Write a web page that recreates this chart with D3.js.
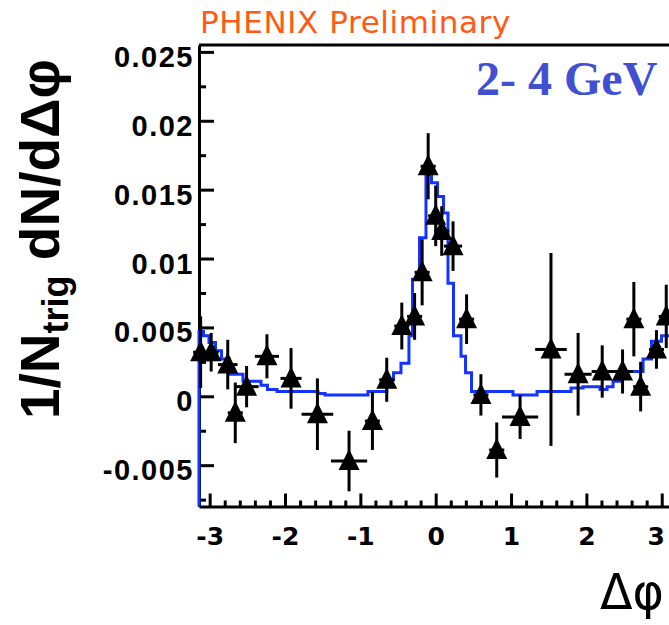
<!DOCTYPE html>
<html>
<head>
<meta charset="utf-8">
<script src="https://cdn.jsdelivr.net/npm/d3@7"></script>
<style>
  html, body { margin: 0; padding: 0; background: #fff; }
  svg { display: block; }
</style>
</head>
<body>
<svg id="chart" width="669" height="625"></svg>
<script>
// measured points (black triangles)
var dphi     = [-3.12, -2.98, -2.76, -2.66, -2.51, -2.24, -1.92, -1.57, -1.15, -0.84,
                -0.65, -0.45, -0.28, -0.18, -0.10, 0.00, 0.08, 0.23, 0.41, 0.60,
                0.81, 1.12, 1.53, 1.89, 2.21, 2.48, 2.63, 2.72, 2.93, 3.06];
var yieldVal = [0.0032, 0.0032, 0.0023, -0.0012, 0.0007, 0.0029, 0.0013, -0.0013, -0.0047, -0.0018,
                0.0012, 0.0051, 0.0058, 0.0090, 0.0167, 0.0131, 0.0120, 0.0109, 0.0056, 0.0001,
                -0.0039, -0.0015, 0.0034, 0.0016, 0.0018, 0.0018, 0.0056, 0.0007, 0.0034, 0.0058];
var yieldErr = [0.0026, 0.0014, 0.0018, 0.0022, 0.0015, 0.0016, 0.0022, 0.0026, 0.0022, 0.0021,
                0.0016, 0.0017, 0.0017, 0.0024, 0.0024, 0.0022, 0.0018, 0.0018, 0.0018, 0.0015,
                0.0020, 0.0016, 0.0070, 0.0030, 0.0019, 0.0016, 0.0027, 0.0018, 0.0014, 0.0023];
var dphiErr  = [0.10, 0.10, 0.13, 0.10, 0.16, 0.16, 0.14, 0.21, 0.24, 0.10,
                0.10, 0.10, 0.10, 0.10, 0.10, 0.10, 0.10, 0.12, 0.10, 0.10,
                0.10, 0.24, 0.21, 0.18, 0.14, 0.14, 0.10, 0.10, 0.10, 0.10];

// blue reference histogram: bin edges and contents
var histEdges = [-Math.PI, -3.082, -3.009, -2.923, -2.843, -2.737, -2.558, -2.319, -2.233, -2.106,
                 -1.562, -1.469, -0.899, -0.650, -0.560, -0.461, -0.355, -0.308, -0.215, -0.129,
                 -0.056, 0.024, 0.104, 0.163, 0.236, 0.336, 0.396, 0.475, 1.026, 1.345,
                 1.796, 1.955, 2.181, 2.274, 2.354, 2.447, 2.752, 2.864, 2.997, Math.PI];
var histVals  = [0.0047, 0.0044, 0.0039, 0.0033, 0.0027, 0.0016, 0.0011, 0.0008, 0.0005, 0.00035,
                 0.0002, 0.0001, 0.00035, 0.0012, 0.0017, 0.0024, 0.0044, 0.0085, 0.0115, 0.0161,
                 0.0155, 0.0145, 0.0133, 0.0082, 0.0044, 0.0029, 0.0017, 0.00035, 0.0001, 0.00035,
                 0.0006, 0.0007, 0.0005, 0.0007, 0.0011, 0.0018, 0.0027, 0.0040, 0.0044];

var yTicks = [-0.005, 0, 0.005, 0.01, 0.015, 0.02, 0.025];
var yTickLabels = ["-0.005", "0", "0.005", "0.01", "0.015", "0.02", "0.025"];
var yMinorTicks = [-0.0075, -0.0025, 0.0025, 0.0075, 0.0125, 0.0175, 0.0225];
var xTicks = [-3, -2, -1, 0, 1, 2, 3];
var xTickLabels = ["-3", "-2", "-1", "0", "1", "2", "3"];

var svg = d3.select("#chart");

var frame = { left: 199, right: 672.4, top: 45, bottom: 506.5 };

var xScale = d3.scaleLinear()
    .domain([-Math.PI, Math.PI])
    .range([frame.left, frame.right]);

var yScale = d3.scaleLinear()
    .domain([-0.008, 0.0255])
    .range([frame.bottom, frame.top]);

// minor x ticks every 0.2
var xMinorTicks = d3.range(-30, 31, 2).map(function (d) { return d / 10; })
    .filter(function (d) { return xTicks.indexOf(d) < 0; });

function styleAxis(g) {
    g.select(".domain").attr("stroke", "#000").attr("stroke-width", 3);
    g.selectAll(".tick line").attr("stroke", "#000").attr("stroke-width", 3);
}

// top frame line
svg.append("line")
    .attr("x1", frame.left).attr("x2", frame.right + 2)
    .attr("y1", frame.top).attr("y2", frame.top)
    .attr("stroke", "#000").attr("stroke-width", 3);

// y axis
var yAxis = svg.append("g")
    .attr("transform", "translate(" + frame.left + ",0)")
    .call(d3.axisLeft(yScale)
        .tickValues(yTicks)
        .tickSize(-15)
        .tickSizeOuter(0)
        .tickPadding(6)
        .tickFormat(function (d, i) { return yTickLabels[i]; }))
    .call(styleAxis);

yAxis.selectAll("text")
    .attr("fill", "#000")
    .attr("dy", "0.5em")
    .attr("x", -5)
    .style("font-family", "'Liberation Sans', Arial, sans-serif")
    .style("font-weight", "bold")
    .style("font-size", "29px")
    .style("letter-spacing", "1.5px");

svg.append("g")
    .attr("transform", "translate(" + frame.left + ",0)")
    .call(d3.axisLeft(yScale).tickValues(yMinorTicks).tickSize(-7).tickSizeOuter(0).tickFormat(""))
    .call(styleAxis)
    .call(function (g) { g.select(".domain").remove(); });

// x axis
var xAxis = svg.append("g")
    .attr("transform", "translate(0," + frame.bottom + ")")
    .call(d3.axisBottom(xScale)
        .tickValues(xTicks)
        .tickSize(-13)
        .tickSizeOuter(0)
        .tickFormat(function (d, i) { return xTickLabels[i]; }))
    .call(styleAxis);

xAxis.selectAll("text")
    .attr("fill", "#000")
    .attr("y", 38.5)
    .attr("dy", 0)
    .attr("x", function (d) { return d === 3 ? -6 : 0; })  // last label sits at the window edge
    .style("font-family", "'DejaVu Sans', sans-serif")
    .style("font-weight", "bold")
    .style("font-size", "25px");

svg.append("g")
    .attr("transform", "translate(0," + frame.bottom + ")")
    .call(d3.axisBottom(xScale).tickValues(xMinorTicks).tickSize(-6).tickSizeOuter(0).tickFormat(""))
    .call(styleAxis)
    .call(function (g) { g.select(".domain").remove(); });

// reference histogram as a step outline
var histPts = [[histEdges[0], yScale.domain()[0]]];
histVals.forEach(function (v, i) {
    histPts.push([histEdges[i], v]);
    histPts.push([histEdges[i + 1], v]);
});
histPts.push([histEdges[histEdges.length - 1], yScale.domain()[0]]);

var stepLine = d3.line()
    .x(function (d) { return xScale(d[0]); })
    .y(function (d) { return yScale(d[1]); });

svg.append("path")
    .datum(histPts)
    .attr("d", stepLine)
    .attr("fill", "none")
    .attr("stroke", "#1333ff")
    .attr("stroke-width", 3)
    .attr("stroke-linejoin", "miter");

// data points with error bars
var points = dphi.map(function (x, i) {
    return { x: x, y: yieldVal[i], ey: yieldErr[i], ex: dphiErr[i] };
});

var pts = svg.append("g").attr("class", "points")
    .selectAll("g")
    .data(points)
    .enter()
    .append("g");

pts.append("line")
    .attr("x1", function (d) { return xScale(d.x); })
    .attr("x2", function (d) { return xScale(d.x); })
    .attr("y1", function (d) { return yScale(d.y - d.ey); })
    .attr("y2", function (d) { return yScale(d.y + d.ey); })
    .attr("stroke", "#000").attr("stroke-width", 3);

pts.append("line")
    .attr("x1", function (d) { return xScale(d.x - d.ex); })
    .attr("x2", function (d) { return xScale(d.x + d.ex); })
    .attr("y1", function (d) { return yScale(d.y); })
    .attr("y2", function (d) { return yScale(d.y); })
    .attr("stroke", "#000").attr("stroke-width", 3);

pts.append("path")
    .attr("transform", function (d) { return "translate(" + xScale(d.x) + "," + yScale(d.y) + ")"; })
    .attr("d", "M0,-12L10.5,9L-10.5,9Z")
    .attr("fill", "#000");

// labels
svg.append("text")
    .attr("x", 200).attr("y", 33)
    .attr("fill", "#ff5a14")
    .style("font-family", "'DejaVu Sans', sans-serif")
    .style("font-size", "31px")
    .style("letter-spacing", "0.6px")
    .text("PHENIX Preliminary");

svg.append("text")
    .attr("x", 476).attr("y", 95)
    .attr("fill", "#4050d0")
    .style("font-family", "'Liberation Serif', 'Times New Roman', serif")
    .style("font-weight", "bold")
    .style("font-size", "48px")
    .text("2- 4 GeV");

var yTitle = svg.append("text")
    .attr("transform", "translate(59,419) rotate(-90)")
    .attr("fill", "#000")
    .style("font-family", "'Liberation Sans', Arial, sans-serif")
    .style("font-weight", "bold")
    .style("font-size", "55px");
yTitle.append("tspan").text("1/N");
yTitle.append("tspan").attr("dy", 9).style("font-size", "36px").text("trig");
yTitle.append("tspan").attr("dy", -9).text(" dN/dΔφ");

svg.append("text")
    .attr("x", 600).attr("y", 609)
    .attr("fill", "#000")
    .attr("textLength", 64)
    .attr("lengthAdjust", "spacingAndGlyphs")
    .style("font-family", "'DejaVu Sans', sans-serif")
    .style("font-size", "50px")
    .text("Δφ");
</script>
</body>
</html>
